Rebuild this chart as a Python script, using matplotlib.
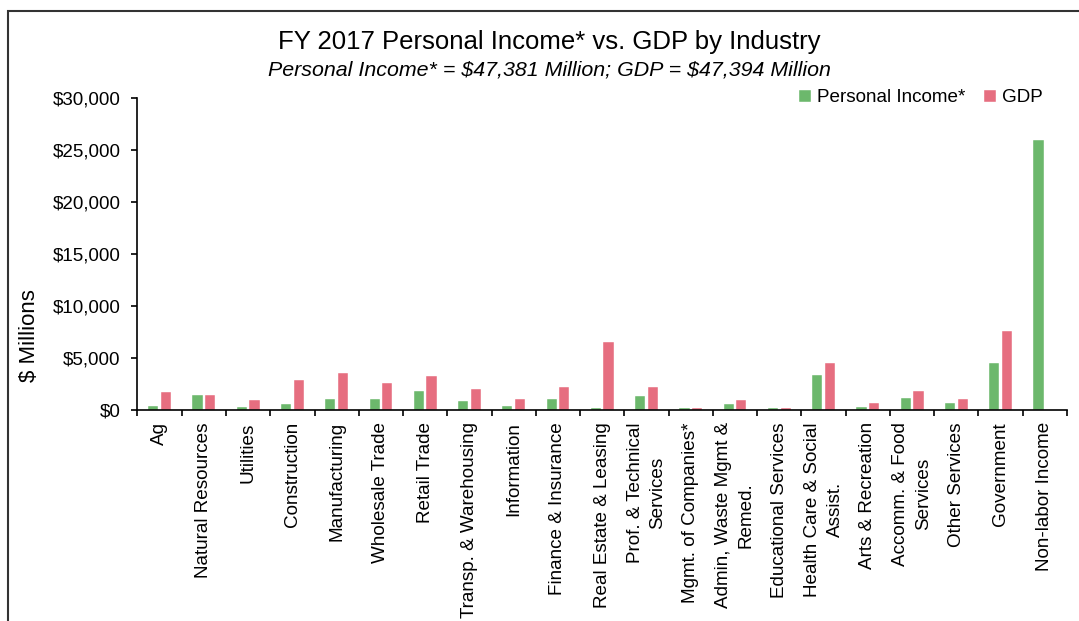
import numpy as np
import matplotlib
matplotlib.use('Agg')
import matplotlib.pyplot as plt
from matplotlib.patches import Rectangle
from matplotlib.ticker import FuncFormatter

plt.rcParams['font.family'] = ['Liberation Sans', 'DejaVu Sans']

categories = ['Ag', 'Natural Resources', 'Utilities', 'Construction', 'Manufacturing',
              'Wholesale Trade', 'Retail Trade', 'Transp. & Warehousing', 'Information',
              'Finance & Insurance', 'Real Estate & Leasing', 'Prof. & Technical\nServices',
              'Mgmt. of Companies*', 'Admin, Waste Mgmt &\nRemed.', 'Educational Services',
              'Health Care & Social\nAssist.', 'Arts & Recreation', 'Accomm. & Food\nServices',
              'Other Services', 'Government', 'Non-labor Income']
personal_income = [385, 1440, 260, 550, 990, 990, 1830, 840, 320, 1060, 190, 1350,
                   125, 580, 130, 3340, 260, 1090, 640, 4490, 25950]
gdp = [1700, 1380, 960, 2890, 3560, 2530, 3240, 2020, 990, 2180, 6520, 2150,
       160, 930, 160, 4490, 610, 1800, 1030, 7540, 0]

green = '#6cb86c'
red = '#e66e80'

fig = plt.figure(figsize=(10.79, 6.21), dpi=100)
ax = fig.add_axes([0.1274, 0.3403, 0.9889 - 0.1274, 0.8422 - 0.3403])

x = np.arange(len(categories))
w = 0.23
ax.bar(x - 0.143, personal_income, w, color=green, edgecolor='white', linewidth=0.3,
       label='Personal Income*')
ax.bar(x + 0.143, gdp, w, color=red, edgecolor='white', linewidth=0.3, label='GDP')

ax.set_xlim(-0.5, len(categories) - 0.5)
ax.set_ylim(0, 30000)
ax.set_yticks(np.arange(0, 30001, 5000))
ax.yaxis.set_major_formatter(FuncFormatter(lambda v, p: '\\${:,.0f}'.format(v)))

ax.set_xticks(x)
ax.set_xticklabels(categories, rotation=90, fontsize=13.6, va='top', ha='center',
                   multialignment='center', linespacing=1.45)
ax.set_xticks(np.arange(len(categories) + 1) - 0.5, minor=True)
ax.tick_params(axis='x', which='major', length=0, pad=9)
ax.tick_params(axis='x', which='minor', length=4, width=1.2, direction='out')
ax.tick_params(axis='y', length=4, width=1.2, direction='out', labelsize=13.5, pad=8)

for s in ['top', 'right']:
    ax.spines[s].set_visible(False)
for s in ['left', 'bottom']:
    ax.spines[s].set_linewidth(1.2)

fig.text(0.027, 1 - 336 / 621, '\\$ Millions', rotation=90, ha='center', va='center',
         fontsize=16)
fig.text(0.509, 1 - 42 / 621, 'FY 2017 Personal Income* vs. GDP by Industry',
         ha='center', va='center', fontsize=18.5)
fig.text(0.509, 1 - 70 / 621,
         'Personal Income* = \\$47,381 Million; GDP = \\$47,394 Million',
         ha='center', va='center', fontsize=15.4, style='italic')

ax.legend(loc='center right', bbox_to_anchor=(0.982, 1 - 98 / 621),
          bbox_transform=fig.transFigure, ncol=2, frameon=False, fontsize=13.6,
          handlelength=0.65, handleheight=0.65, handletextpad=0.3, columnspacing=1.0)

# outer chart frame
fig.patches.append(Rectangle((8 / 1079, -0.2), 1.2, 1.2 - 10.5 / 621,
                             transform=fig.transFigure, fill=False,
                             edgecolor='#333333', linewidth=1.5))

fig.savefig('out.png', dpi=100)
